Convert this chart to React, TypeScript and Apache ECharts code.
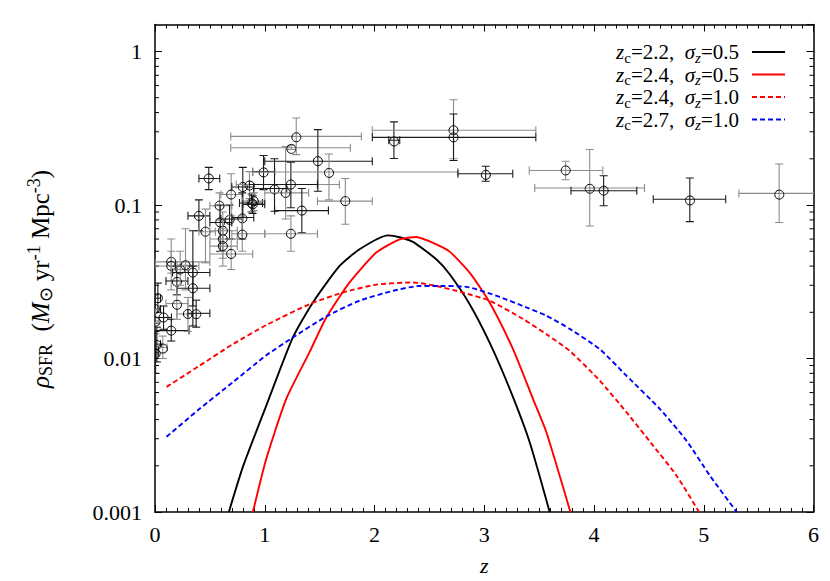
import React, { useEffect, useRef } from 'react';
import * as echarts from 'echarts';

const FONT = '"Liberation Serif", "Times New Roman", Times, serif';

// ---- model curves ----
const zA = [0.673, 0.8, 1.014, 1.256, 1.439, 1.682, 1.864, 2.122, 2.229, 2.35, 2.563, 2.685, 2.867, 3.049, 3.232, 3.414, 3.596];
const vA = [0.001, 0.00196, 0.00493, 0.01373, 0.0232, 0.0401, 0.0515, 0.0634, 0.0617, 0.0575, 0.0443, 0.0354, 0.0226, 0.0127, 0.00634, 0.00285, 0.001];

const zB = [0.892, 1.014, 1.196, 1.408, 1.561, 1.773, 2.016, 2.229, 2.381, 2.563, 2.685, 2.867, 3.049, 3.262, 3.444, 3.566, 3.785];
const vB = [0.001, 0.00222, 0.00546, 0.011, 0.0185, 0.0313, 0.049, 0.0598, 0.0619, 0.0555, 0.0497, 0.0363, 0.0232, 0.0115, 0.00546, 0.00331, 0.001];

const zC = [0.105, 0.406, 0.709, 1.014, 1.408, 1.712, 2.016, 2.35, 2.563, 2.806, 3.049, 3.353, 3.566, 3.779, 4.052, 4.295, 4.538, 4.751, 4.957];
const vC = [0.00653, 0.00898, 0.0124, 0.0165, 0.0226, 0.0269, 0.0303, 0.0313, 0.0297, 0.0269, 0.0238, 0.0181, 0.0144, 0.0112, 0.00718, 0.00447, 0.00271, 0.00173, 0.001];

const zD = [0.105, 0.406, 0.709, 1.014, 1.256, 1.561, 1.864, 2.168, 2.411, 2.532, 2.837, 3.14, 3.384, 3.566, 3.779, 4.052, 4.295, 4.599, 4.842, 5.055, 5.3];
const vD = [0.00309, 0.0047, 0.007, 0.0105, 0.0137, 0.0188, 0.0238, 0.0276, 0.0297, 0.0297, 0.0293, 0.0252, 0.0215, 0.019, 0.0156, 0.0115, 0.00773, 0.0047, 0.00292, 0.00173, 0.001];

// ---- observational data: z, rho, zlo, zhi, rholo, rhohi, gray(1)/black(0) ----
const obsZ = [0.026, 0.0, 0.005, 0.017, 0.071, 0.005, 0.078, 0.148, 0.148, 0.148, 0.199, 0.23, 0.278, 0.345, 0.345, 0.199, 0.3, 0.375,
  0.40, 0.46, 0.49, 0.588, 0.594, 0.618, 0.618, 0.618, 0.679, 0.694, 0.694, 0.795, 0.795, 0.80, 0.861, 0.88, 0.9, 0.89, 0.989,
  1.089, 1.19, 1.238, 1.241, 1.287, 1.338, 1.238, 1.484, 1.585, 1.734,
  2.177, 2.72, 2.72, 3.013, 3.742, 3.961, 4.088, 4.873, 5.687];
const obsV = [0.0247, 0.021, 0.0176, 0.0124, 0.0118, 0.0109, 0.0185, 0.0152, 0.0426, 0.0401, 0.032, 0.038, 0.0405, 0.0363, 0.0287, 0.0228, 0.0195, 0.0197,
  0.085, 0.067, 0.149, 0.099, 0.077, 0.068, 0.06, 0.054, 0.081, 0.117, 0.048, 0.083, 0.065, 0.131, 0.136, 0.103, 0.106, 0.101, 0.165,
  0.128, 0.12, 0.136, 0.236, 0.28, 0.092, 0.065, 0.193, 0.164, 0.106,
  0.264, 0.307, 0.276, 0.16, 0.168, 0.129, 0.124, 0.109, 0.119];
const obsZlo = [0.0, 0.0, 0.0, 0.0, 0.03, 0.0, 0.0, 0.0, 0.0, 0.0, 0.1, 0.15, 0.2, 0.16, 0.2, 0.1, 0.2, 0.3,
  0.3, 0.4, 0.4, 0.5, 0.5, 0.5, 0.5, 0.5, 0.6, 0.6, 0.5, 0.7, 0.7, 0.7, 0.74, 0.77, 0.8, 0.8, 0.89,
  0.9, 1.0, 0.86, 0.69, 0.69, 1.09, 1.0, 1.0, 0.89, 1.48,
  2.13, 1.98, 1.98, 2.76, 3.41, 3.46, 3.79, 4.54, 5.32];
const obsZhi = [0.05, 0.05, 0.03, 0.05, 0.11, 0.03, 0.15, 0.31, 0.5, 0.4, 0.3, 0.3, 0.35, 0.5, 0.5, 0.3, 0.35, 0.5,
  0.5, 0.55, 0.59, 0.7, 0.7, 0.75, 0.75, 0.75, 0.8, 0.8, 0.89, 0.9, 1.0, 0.9, 1.68, 0.98, 1.0, 1.0, 1.09,
  1.2, 1.4, 1.48, 1.78, 1.88, 1.58, 1.48, 1.98, 2.76, 1.98,
  2.23, 3.47, 3.47, 3.26, 4.08, 4.46, 4.39, 5.2, 6.05];
const obsVlo = [0.02, 0.017, 0.0145, 0.0095, 0.01, 0.008, 0.0155, 0.013, 0.036, 0.028, 0.026, 0.03, 0.028, 0.0163, 0.022, 0.018, 0.015, 0.016,
  0.068, 0.042, 0.126, 0.08, 0.05, 0.05, 0.045, 0.04, 0.06, 0.085, 0.038, 0.06, 0.05, 0.083, 0.11, 0.09, 0.092, 0.088, 0.126,
  0.091, 0.081, 0.096, 0.23, 0.213, 0.066, 0.05, 0.123, 0.108, 0.075,
  0.201, 0.2, 0.195, 0.143, 0.146, 0.073, 0.099, 0.078, 0.077];
const obsVhi = [0.031, 0.026, 0.021, 0.016, 0.014, 0.015, 0.022, 0.018, 0.05, 0.06, 0.04, 0.05, 0.07, 0.068, 0.04, 0.03, 0.025, 0.024,
  0.108, 0.094, 0.176, 0.12, 0.1, 0.09, 0.08, 0.07, 0.1, 0.16, 0.06, 0.12, 0.085, 0.176, 0.165, 0.118, 0.12, 0.115, 0.21,
  0.2, 0.24, 0.19, 0.245, 0.369, 0.128, 0.085, 0.31, 0.215, 0.149,
  0.348, 0.485, 0.392, 0.179, 0.193, 0.23, 0.155, 0.15, 0.185];
const obsGray = [0, 0, 1, 0, 1, 0, 0, 0, 1, 1, 0, 1, 1, 0, 0, 1, 1, 0,
  0, 1, 0, 1, 0, 1, 1, 1, 0, 1, 1, 0, 1, 0, 1, 0, 1, 0, 0,
  0, 1, 0, 1, 1, 0, 1, 0, 1, 1,
  0, 1, 0, 0, 1, 1, 0, 0, 1];

// ---- ticks ----
const yMajorLabels = ['0.001', '0.01', '0.1', '1'];
const yMinorTicks = [0.002, 0.003, 0.004, 0.005, 0.006, 0.007, 0.008, 0.009,
  0.02, 0.03, 0.04, 0.05, 0.06, 0.07, 0.08, 0.09,
  0.2, 0.3, 0.4, 0.5, 0.6, 0.7, 0.8, 0.9];

const legendNames = [
  { zc: '2.2', sz: '0.5' },
  { zc: '2.4', sz: '0.5' },
  { zc: '2.4', sz: '1.0' },
  { zc: '2.7', sz: '1.0' },
];
const legendColors = ['#000000', '#ff0000', '#ff0000', '#0000ff'];
const legendDashed = [false, false, true, true];

const X_MIN = 0, X_MAX = 6, Y_MIN = 0.001, Y_MAX = 1.5;

export default function App() {
  const ref = useRef<HTMLDivElement>(null);
  useEffect(() => {
    document.body.style.margin = '0';
    if (!ref.current) return;
    const chart = echarts.init(ref.current, undefined, { renderer: 'svg' });

    const pair = (zs: number[], vs: number[]) => zs.map((z, i) => [z, vs[i]]);
    const obsData = obsZ.map((z, i) => [z, obsV[i], obsZlo[i], obsZhi[i], obsVlo[i], obsVhi[i], obsGray[i]]);

    const FS = 21;
    const TFS = 22;
    const mkRich = (fs: number, ss: number, lh: number, slh: number) => ({
      i: { fontFamily: FONT, fontSize: fs, fontStyle: 'italic', lineHeight: lh, color: '#000' },
      n: { fontFamily: FONT, fontSize: fs, lineHeight: lh, color: '#000' },
      s: { fontFamily: FONT, fontSize: ss, lineHeight: slh, verticalAlign: 'bottom', color: '#000' },
      si: { fontFamily: FONT, fontSize: ss, fontStyle: 'italic', lineHeight: slh, verticalAlign: 'bottom', color: '#000' },
      sup: { fontFamily: FONT, fontSize: ss, lineHeight: slh, verticalAlign: 'top', color: '#000' },
    });
    const richLegend = mkRich(FS, 15, 26, 14);
    const richTitle = mkRich(25, 18, 30, 16);

    const lineSeries = (name: string, data: number[][], color: string, dashed: boolean) => ({
      name,
      type: 'line',
      data,
      showSymbol: false,
      symbol: 'none',
      smooth: 0.2,
      clip: true,
      lineStyle: { color, width: 1.9, type: dashed ? [5, 3] : 'solid' },
      z: 3,
    });

    const graphics: any[] = [];
    const legendY0 = 52;
    const legendDY = 22.5;
    legendNames.forEach((ln, k) => {
      const y = legendY0 + k * legendDY;
      graphics.push({
        type: 'text',
        x: 739,
        y,
        style: {
          text: `{i|z}{s|c}{n|=${ln.zc},  }{i|σ}{si|z}{n|=${ln.sz}}`,
          rich: richLegend,
          align: 'right',
          verticalAlign: 'middle',
        },
        z: 10,
      });
      graphics.push({
        type: 'line',
        shape: { x1: 752, y1: y, x2: 785, y2: y },
        style: { stroke: legendColors[k], lineWidth: 1.9, lineDash: legendDashed[k] ? [5, 3] : null },
        z: 10,
      });
    });
    graphics.push({
      type: 'text',
      x: 40,
      y: 279,
      rotation: Math.PI / 2,
      style: {
        text: '{i|ρ}{s|SFR}{n|  (}{i|M}{s|⊙}{n| yr}{sup|-1}{n| Mpc}{sup|-3}{n|)}',
        rich: richTitle,
        align: 'center',
        verticalAlign: 'middle',
      },
    });

    const option: any = {
      animation: false,
      backgroundColor: '#ffffff',
      grid: { left: 155, right: 16.5, top: 24.5, bottom: 67.7, containLabel: false },
      xAxis: [
        {
          type: 'value', min: X_MIN, max: X_MAX, interval: 1,
          name: 'z', nameLocation: 'middle', nameGap: 42,
          nameTextStyle: { fontFamily: FONT, fontSize: TFS, fontStyle: 'italic', color: '#000' },
          axisLine: { show: true, onZero: false, lineStyle: { color: '#000', width: 1.5 } },
          axisTick: { show: true, inside: true, length: 7, lineStyle: { color: '#000', width: 1 } },
          minorTick: { show: true, splitNumber: 10, length: 4, lineStyle: { color: '#000', width: 1 } },
          axisLabel: { fontFamily: FONT, fontSize: TFS, color: '#000', margin: 11 },
          splitLine: { show: false },
          minorSplitLine: { show: false },
        },
        {
          type: 'value', min: X_MIN, max: X_MAX, interval: 1, position: 'top',
          axisLine: { show: true, onZero: false, lineStyle: { color: '#000', width: 1.5 } },
          axisTick: { show: true, inside: true, length: 7, lineStyle: { color: '#000', width: 1 } },
          minorTick: { show: true, splitNumber: 10, length: 4, lineStyle: { color: '#000', width: 1 } },
          axisLabel: { show: false },
          splitLine: { show: false },
        },
      ],
      yAxis: [
        {
          type: 'log', logBase: 10, min: Y_MIN, max: Y_MAX,
          axisLine: { show: true, onZero: false, lineStyle: { color: '#000', width: 1.5 } },
          axisTick: { show: true, inside: true, length: 7, lineStyle: { color: '#000', width: 1 } },
          axisLabel: {
            fontFamily: FONT, fontSize: TFS, color: '#000', margin: 13, showMaxLabel: false,
            formatter: (v: number) => {
              const e = Math.round(Math.log10(v));
              const idx = e + 3;
              return Math.abs(Math.log10(v) - e) < 1e-6 && idx >= 0 && idx < yMajorLabels.length ? yMajorLabels[idx] : '';
            },
          },
          splitLine: { show: false },
        },
        {
          type: 'log', logBase: 10, min: Y_MIN, max: Y_MAX, position: 'right',
          axisLine: { show: true, onZero: false, lineStyle: { color: '#000', width: 1.5 } },
          axisTick: { show: true, inside: true, length: 7, lineStyle: { color: '#000', width: 1 } },
          axisLabel: { show: false },
          splitLine: { show: false },
        },
      ],
      graphic: graphics,
      series: [
        {
          type: 'custom',
          name: 'minorY',
          xAxisIndex: 0, yAxisIndex: 0,
          data: yMinorTicks.map((v) => [v]),
          clip: false,
          silent: true,
          renderItem: (params: any, api: any) => {
            const v = api.value(0);
            const l = api.coord([X_MIN, v]);
            const r = api.coord([X_MAX, v]);
            return {
              type: 'group',
              children: [
                { type: 'line', shape: { x1: l[0], y1: l[1], x2: l[0] + 4, y2: l[1] }, style: { stroke: '#000', lineWidth: 1 } },
                { type: 'line', shape: { x1: r[0], y1: r[1], x2: r[0] - 4, y2: r[1] }, style: { stroke: '#000', lineWidth: 1 } },
              ],
            };
          },
          encode: { x: -1, y: 0 },
        },
        {
          type: 'custom',
          name: 'data',
          xAxisIndex: 0, yAxisIndex: 0,
          data: obsData,
          clip: true,
          silent: true,
          encode: { x: 0, y: 1 },
          renderItem: (params: any, api: any) => {
            const z = api.value(0), v = api.value(1);
            const zlo = api.value(2), zhi = api.value(3), vlo = api.value(4), vhi = api.value(5);
            const g = api.value(6);
            const c = api.coord([z, v]);
            const L = api.coord([zlo, v]);
            const R = api.coord([zhi, v]);
            const T = api.coord([z, vhi]);
            const B = api.coord([z, vlo]);
            const col = g ? '#8c8c8c' : '#1a1a1a';
            const cap = 4;
            const st = { stroke: col, lineWidth: 1.1 };
            return {
              type: 'group',
              children: [
                { type: 'line', shape: { x1: L[0], y1: L[1], x2: R[0], y2: R[1] }, style: st },
                { type: 'line', shape: { x1: T[0], y1: T[1], x2: B[0], y2: B[1] }, style: st },
                { type: 'line', shape: { x1: L[0], y1: L[1] - cap, x2: L[0], y2: L[1] + cap }, style: st },
                { type: 'line', shape: { x1: R[0], y1: R[1] - cap, x2: R[0], y2: R[1] + cap }, style: st },
                { type: 'line', shape: { x1: T[0] - cap, y1: T[1], x2: T[0] + cap, y2: T[1] }, style: st },
                { type: 'line', shape: { x1: B[0] - cap, y1: B[1], x2: B[0] + cap, y2: B[1] }, style: st },
                { type: 'circle', shape: { cx: c[0], cy: c[1], r: 4.5 }, style: { stroke: '#000', fill: 'none', lineWidth: 1 } },
              ],
            };
          },
          z: 2,
        },
        lineSeries('A', pair(zA, vA), '#000000', false),
        lineSeries('B', pair(zB, vB), '#ff0000', false),
        lineSeries('C', pair(zC, vC), '#ff0000', true),
        lineSeries('D', pair(zD, vD), '#0000ff', true),
      ],
    };
    chart.setOption(option);
    return () => chart.dispose();
  }, []);
  return <div ref={ref} style={{ width: 830, height: 581 }} />;
}
